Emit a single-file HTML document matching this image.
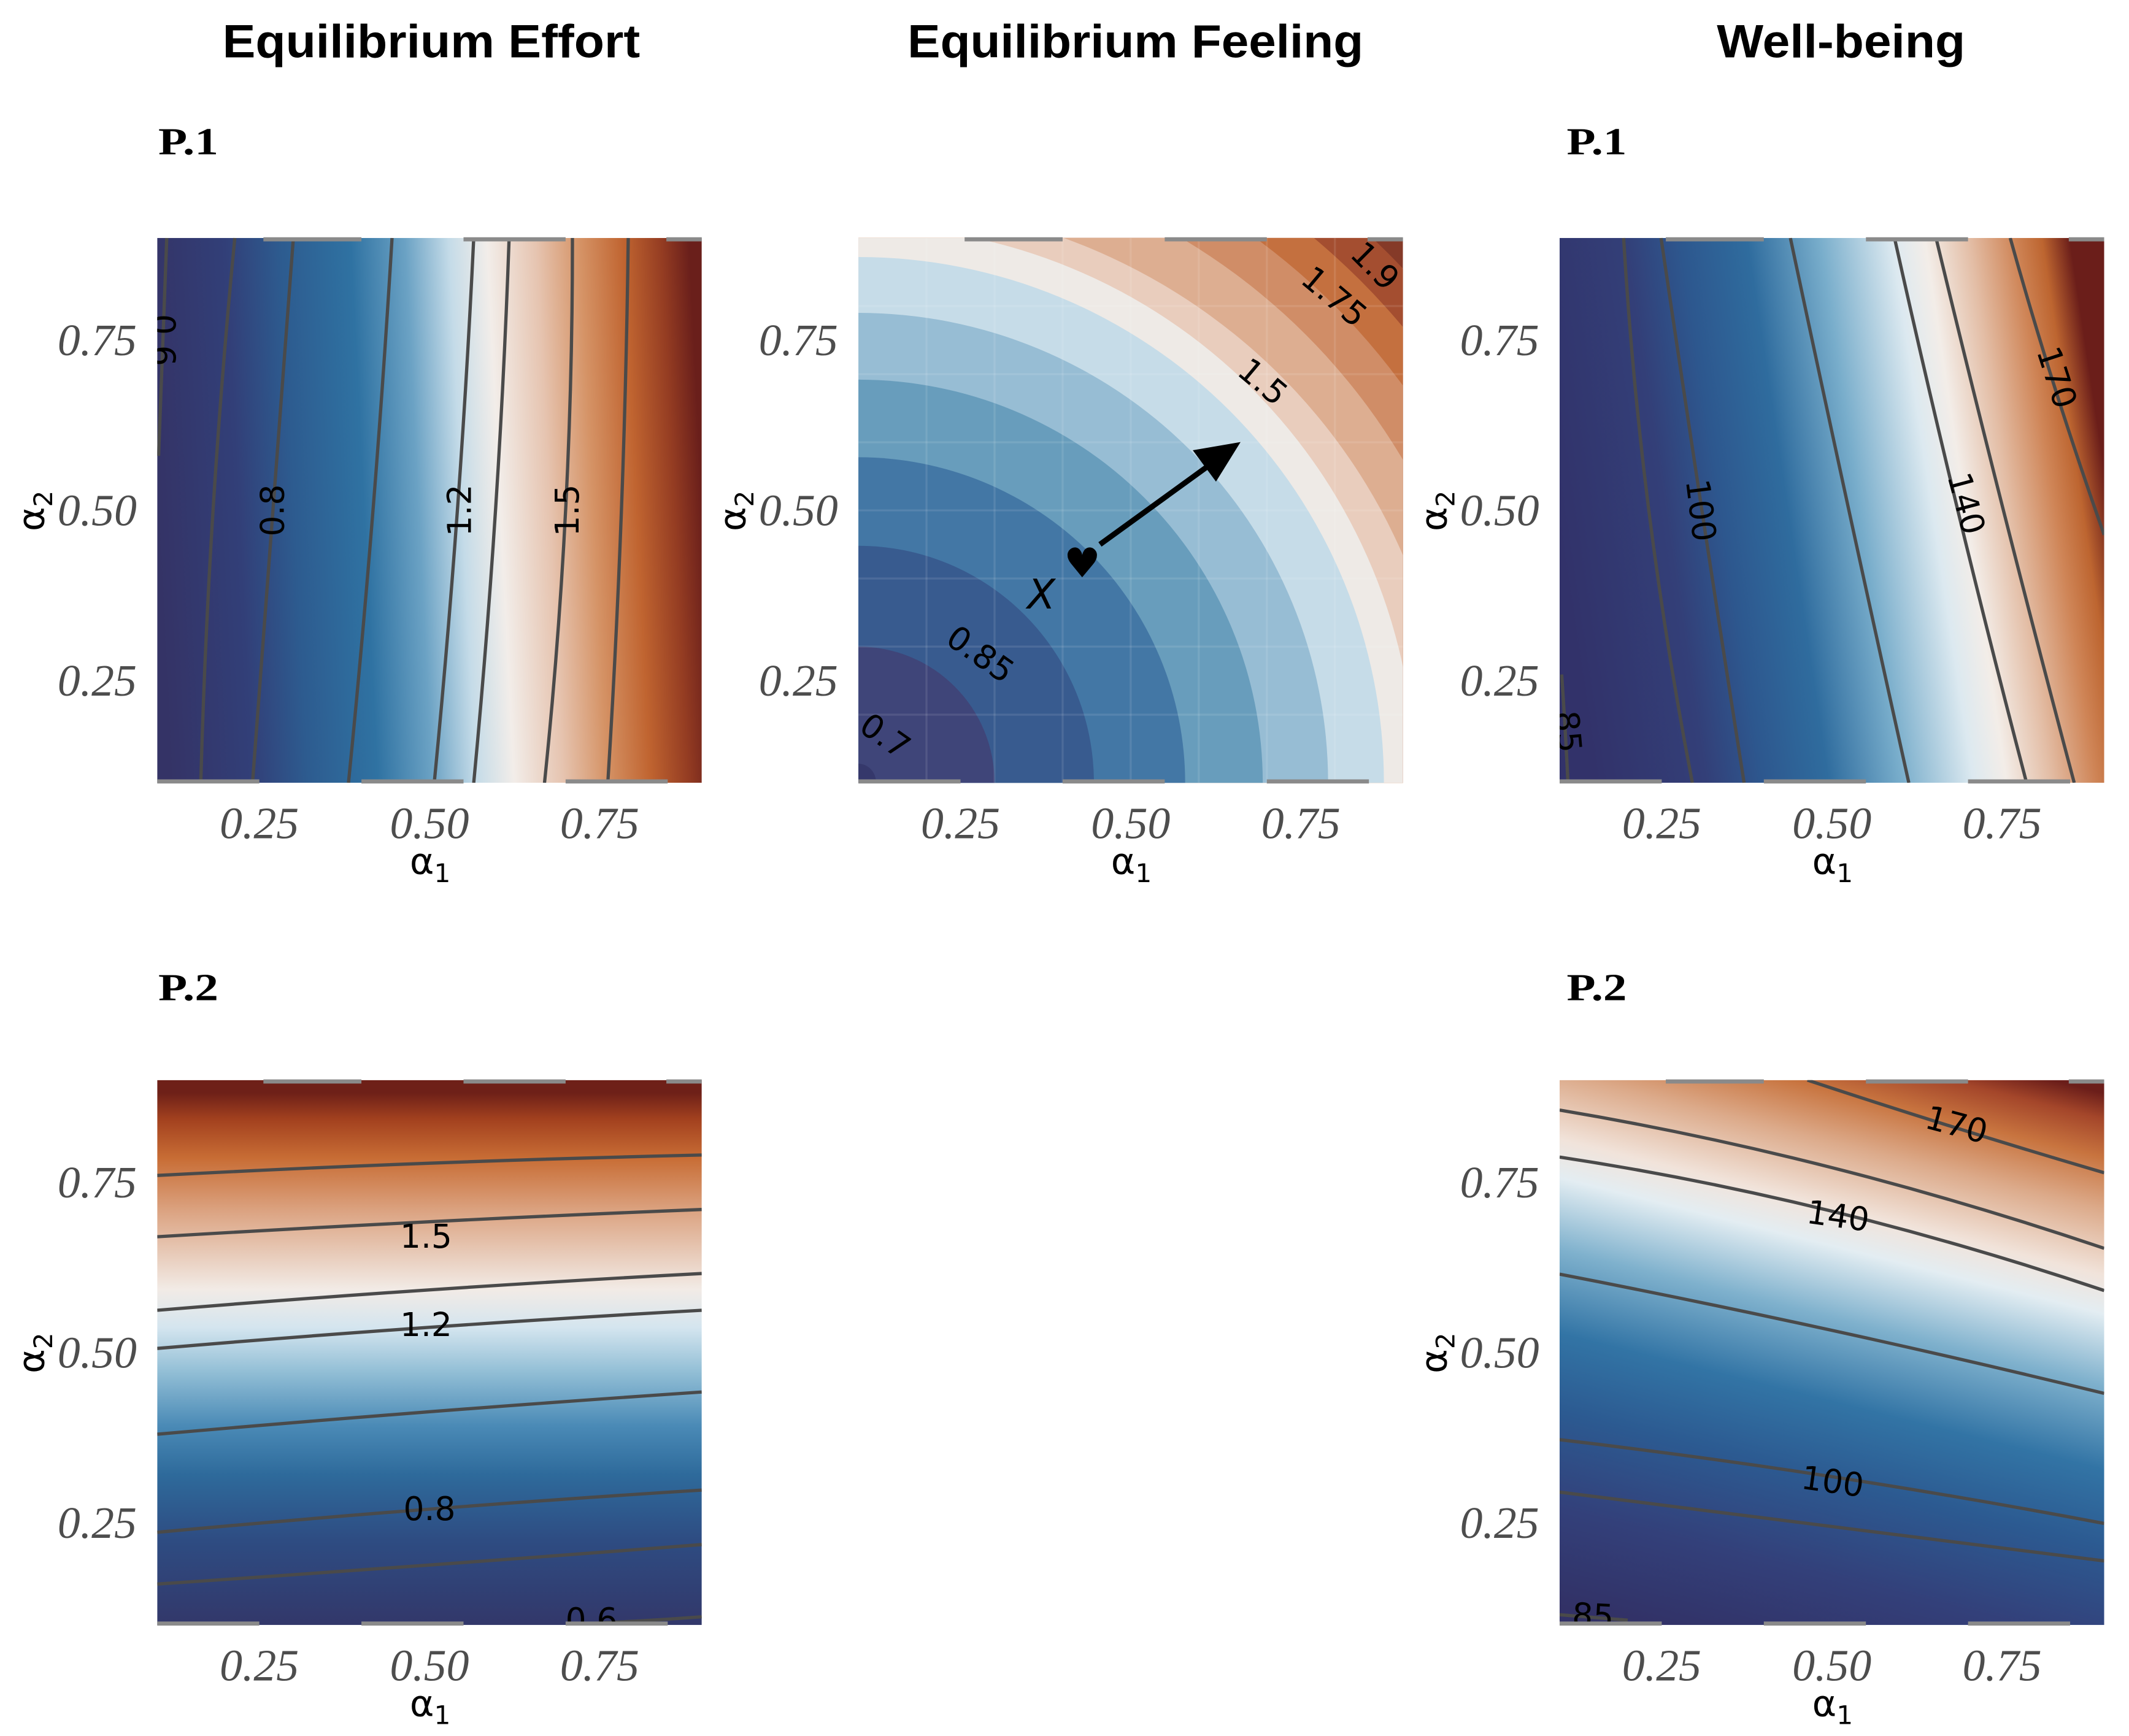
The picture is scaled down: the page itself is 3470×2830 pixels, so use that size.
<!DOCTYPE html>
<html><head><meta charset="utf-8"><style>
html,body{margin:0;padding:0;background:#fff;}
svg{display:block;}
.tt{font-family:"Liberation Sans",sans-serif;font-weight:bold;font-size:34px;fill:#000;}
.pl{font-family:"Liberation Serif",serif;font-weight:bold;font-size:28px;fill:#000;}
.tick{font-family:"Liberation Serif",serif;font-style:italic;font-size:33px;fill:#4d4d4d;}
.ax{font-family:"DejaVu Sans","Liberation Sans",sans-serif;font-size:27px;fill:#000;}
.cl{font-family:"DejaVu Sans","Liberation Sans",sans-serif;font-size:24px;fill:#000;}
</style></head><body>
<svg id="fig" width="3470" height="2830" viewBox="0 0 1560 1272.3" preserveAspectRatio="none" xmlns="http://www.w3.org/2000/svg">
<defs>
<linearGradient id="gEff1" gradientUnits="userSpaceOnUse" x1="115" y1="380" x2="514" y2="360">
<stop offset="0" stop-color="#343366"/><stop offset="0.15" stop-color="#323f78"/><stop offset="0.25" stop-color="#2d5b8f"/><stop offset="0.38" stop-color="#2f72a2"/><stop offset="0.48" stop-color="#6ba2c4"/><stop offset="0.56" stop-color="#c4dbe8"/><stop offset="0.63" stop-color="#f2ede9"/><stop offset="0.72" stop-color="#e6c4b0"/><stop offset="0.8" stop-color="#d59366"/><stop offset="0.88" stop-color="#c06430"/><stop offset="0.95" stop-color="#943c22"/><stop offset="1" stop-color="#6a1f1b"/>
</linearGradient>
<linearGradient id="gEff2" gradientUnits="userSpaceOnUse" x1="315" y1="801" x2="315" y2="1201">
<stop offset="0" stop-color="#6e2018"/><stop offset="0.05" stop-color="#a4421f"/><stop offset="0.12" stop-color="#c86d35"/><stop offset="0.22" stop-color="#dca584"/><stop offset="0.36" stop-color="#f2ebe6"/><stop offset="0.43" stop-color="#d4e5ef"/><stop offset="0.51" stop-color="#93bfd6"/><stop offset="0.61" stop-color="#4a8ab6"/><stop offset="0.7" stop-color="#2e6a9b"/><stop offset="0.82" stop-color="#2e4c82"/><stop offset="1" stop-color="#333466"/>
</linearGradient>
<linearGradient id="gWb1" gradientUnits="userSpaceOnUse" x1="1143" y1="404" x2="1542" y2="344">
<stop offset="0" stop-color="#32326a"/><stop offset="0.2" stop-color="#333f78"/><stop offset="0.3" stop-color="#2d578e"/><stop offset="0.42" stop-color="#2f6c9e"/><stop offset="0.55" stop-color="#78adcb"/><stop offset="0.68" stop-color="#dce9f0"/><stop offset="0.74" stop-color="#f3ede8"/><stop offset="0.82" stop-color="#e3bda5"/><stop offset="0.9" stop-color="#cf8557"/><stop offset="0.95" stop-color="#bd6530"/><stop offset="1" stop-color="#6b1e1a"/>
</linearGradient>
<linearGradient id="gWb2" gradientUnits="userSpaceOnUse" x1="1293" y1="1215" x2="1405" y2="767">
<stop offset="0" stop-color="#323166"/><stop offset="0.15" stop-color="#33407a"/><stop offset="0.3" stop-color="#2c5a91"/><stop offset="0.42" stop-color="#3274a5"/><stop offset="0.55" stop-color="#7fb1cd"/><stop offset="0.66" stop-color="#e3edf2"/><stop offset="0.72" stop-color="#f1e3da"/><stop offset="0.82" stop-color="#dcaa8a"/><stop offset="0.9" stop-color="#c8743f"/><stop offset="0.96" stop-color="#a4462a"/><stop offset="1" stop-color="#6b1e1a"/>
</linearGradient>
<clipPath id="cpA"><rect x="115.2" y="174.4" width="399" height="399.3"/></clipPath>
<clipPath id="cpB"><rect x="629" y="174.4" width="399" height="399.3"/></clipPath>
<clipPath id="cpC"><rect x="1142.8" y="174.4" width="399" height="399.3"/></clipPath>
<clipPath id="cpD"><rect x="115.2" y="791.6" width="399" height="399.3"/></clipPath>
<clipPath id="cpE"><rect x="1142.8" y="791.6" width="399" height="399.3"/></clipPath>
</defs>

<text class="tt" x="316" y="42" text-anchor="middle" textLength="306" lengthAdjust="spacingAndGlyphs">Equilibrium Effort</text>
<text class="tt" x="832" y="42" text-anchor="middle" textLength="334" lengthAdjust="spacingAndGlyphs">Equilibrium Feeling</text>
<text class="tt" x="1349" y="42" text-anchor="middle" textLength="182" lengthAdjust="spacingAndGlyphs">Well-being</text>
<text class="pl" x="116" y="113" textLength="44" lengthAdjust="spacingAndGlyphs">P.1</text>
<text class="pl" x="1148" y="113" textLength="44" lengthAdjust="spacingAndGlyphs">P.1</text>
<text class="pl" x="116" y="733" textLength="44" lengthAdjust="spacingAndGlyphs">P.2</text>
<text class="pl" x="1148" y="733" textLength="44" lengthAdjust="spacingAndGlyphs">P.2</text>
<g id="root"></g>
</svg>
<script>
// axis ticks
const tickValues = [0.25, 0.5, 0.75];
const tickLabels = ["0.25", "0.50", "0.75"];
// Effort P1 contour lines ([alpha1, alpha2] points)
const effP1Lines = [
 [[0.114,0.9],[0.108,0.74],[0.102,0.58]],
 [[0.214,0.9],[0.182,0.5],[0.164,0.1]],
 [[0.300,0.9],[0.270,0.5],[0.240,0.1]],
 [[0.445,0.9],[0.417,0.5],[0.381,0.1]],
 [[0.565,0.9],[0.541,0.5],[0.507,0.1]],
 [[0.617,0.9],[0.597,0.5],[0.565,0.1]],
 [[0.710,0.9],[0.700,0.5],[0.669,0.1]],
 [[0.792,0.9],[0.782,0.5],[0.762,0.1]]
];
const effP1Labels = ["0.6","0.8","1.2","1.5"];
const effP1LabelPos = [[0.108,0.75],[0.27,0.5],[0.545,0.5],[0.703,0.5]];
// Effort P2
const effP2Lines = [
 [[0.726,0.102],[0.81,0.106],[0.9,0.112]],
 [[0.1,0.16],[0.5,0.188],[0.9,0.218]],
 [[0.1,0.236],[0.5,0.27],[0.9,0.298]],
 [[0.1,0.38],[0.5,0.413],[0.9,0.442]],
 [[0.1,0.506],[0.5,0.537],[0.9,0.562]],
 [[0.1,0.562],[0.5,0.592],[0.9,0.616]],
 [[0.1,0.67],[0.5,0.692],[0.9,0.71]],
 [[0.1,0.76],[0.5,0.778],[0.9,0.79]]
];
const effP2Labels = ["1.5","1.2","0.8","0.6"];
const effP2LabelPos = [[0.495,0.67],[0.495,0.54],[0.5,0.27],[0.738,0.107]];
// Feeling: filled contour bands as ellipse radii (alpha units from corner 0.1,0.1)
const feelRx = [1.10,1.043,0.99,0.93,0.8695,0.818,0.772,0.69,0.594,0.48,0.346,0.20,0.026];
const feelRy = [1.10,1.043,0.99,0.93,0.853,0.818,0.772,0.69,0.592,0.478,0.348,0.20,0.028];
const feelColors = ["#a44e30","#c4703f","#d08d67","#ddae91","#e9cdbd","#eeeae6","#c6dce8","#97bdd4","#689dbc","#4377a5","#385b8f","#3f4579","#35386b"];
const feelOuter = "#853a28";
const feelLabels = ["0.7","0.85","1.5","1.75","1.9"];
const feelLabelPos = [[0.14,0.17],[0.28,0.29],[0.695,0.69],[0.80,0.815],[0.86,0.86]];
const feelLabelRot = [35,35,40,40,45];
// Well-being P1
const wbP1Lines = [
 [[0.103,0.259],[0.108,0.18],[0.112,0.104]],
 [[0.194,0.9],[0.231,0.5],[0.295,0.1]],
 [[0.249,0.9],[0.309,0.5],[0.371,0.1]],
 [[0.439,0.9],[0.525,0.5],[0.613,0.1]],
 [[0.592,0.9],[0.685,0.5],[0.786,0.1]],
 [[0.653,0.9],[0.752,0.5],[0.856,0.1]],
 [[0.762,0.9],[0.826,0.685],[0.9,0.464]]
];
const wbP1Labels = ["100","140","170","85"];
const wbP1LabelPos = [[0.307,0.5],[0.697,0.51],[0.83,0.695],[0.112,0.175]];
const wbP1LabelRot = [83,75,72,85];
// Well-being P2
const wbP2Lines = [
 [[0.464,0.9],[0.685,0.829],[0.9,0.764]],
 [[0.1,0.856],[0.498,0.772],[0.9,0.653]],
 [[0.1,0.787],[0.498,0.708],[0.9,0.591]],
 [[0.1,0.615],[0.498,0.533],[0.9,0.440]],
 [[0.1,0.372],[0.498,0.318],[0.9,0.249]],
 [[0.1,0.295],[0.498,0.245],[0.9,0.194]],
 [[0.1,0.115],[0.15,0.111],[0.2,0.107]]
];
const wbP2Labels = ["170","140","100","85"];
const wbP2LabelPos = [[0.683,0.834],[0.509,0.70],[0.501,0.31],[0.149,0.113]];
const wbP2LabelRot = [15,8,8,3];

const NS = "http://www.w3.org/2000/svg";
const root = document.getElementById('root');
const PW=399, PH=399.3;
function mk(tag, attrs, parent){const e=document.createElementNS(NS,tag);for(const k in attrs)e.setAttribute(k,attrs[k]);(parent||root).appendChild(e);return e;}
function sx(p,v){return p.x0+(v-0.1)/0.8*PW;}
function sy(p,v){return p.y0+PH-(v-0.1)/0.8*PH;}
function curve(p,pts){
 const a=[sx(p,pts[0][0]),sy(p,pts[0][1])],b=[sx(p,pts[1][0]),sy(p,pts[1][1])],c=[sx(p,pts[2][0]),sy(p,pts[2][1])];
 const cx=2*b[0]-(a[0]+c[0])/2, cy=2*b[1]-(a[1]+c[1])/2;
 return `M${a[0]},${a[1]} Q${cx},${cy} ${c[0]},${c[1]}`;
}
function axes(p, name){
 const g=mk('g',{});
 
 
 const topSeg=[[0.256,0.4],[0.55,0.7],[0.848,0.9]], botSeg=[[0.1,0.25],[0.4,0.55],[0.7,0.85]];
 topSeg.forEach(s=>{mk('line',{x1:sx(p,s[0]),x2:sx(p,s[1]),y1:p.y0+1,y2:p.y0+1,stroke:'#8a8a8a','stroke-width':3},g);});
 botSeg.forEach(s=>{mk('line',{x1:sx(p,s[0]),x2:sx(p,s[1]),y1:p.y0+PH-1,y2:p.y0+PH-1,stroke:'#8a8a8a','stroke-width':3},g);});
 tickValues.forEach((v,i)=>{
  const t=mk('text',{class:'tick',x:sx(p,v),y:p.y0+440,'text-anchor':'middle',textLength:58,lengthAdjust:'spacingAndGlyphs'},g);
  
  
  t.textContent=tickLabels[i];
  const u=mk('text',{class:'tick',x:p.x0-15,y:sy(p,v)+11,'text-anchor':'end',textLength:58,lengthAdjust:'spacingAndGlyphs'},g);
  
  
  u.textContent=tickLabels[i];
 });
 const xl=mk('text',{class:'ax',x:p.x0+200,y:p.y0+466,'text-anchor':'middle'},g);
 
 
 xl.innerHTML='α<tspan font-size="19" dy="6">1</tspan>';
 const yl=mk('text',{class:'ax',x:0,y:0,'text-anchor':'middle',transform:`translate(${p.x0-83},${p.y0+200}) rotate(-90)`},g);
 
 
 yl.innerHTML='α<tspan font-size="19" dy="6">2</tspan>';
}
function linesPanel(p,name,fill,clip,lines,labels,pos,rots){
 const g=mk('g',{'clip-path':`url(#${clip})`});
 
 
 mk('rect',{x:p.x0,y:p.y0,width:PW,height:PH,fill:fill},g);
 lines.forEach(l=>{
  const e=mk('path',{d:curve(p,l),fill:'none',stroke:'#4a4a4a','stroke-width':2.4},g);
  
  
 });
 labels.forEach((s,i)=>{
  const x=sx(p,pos[i][0]),y=sy(p,pos[i][1]);
  const t=mk('text',{class:'cl',x:x,y:y+8,'text-anchor':'middle',transform:`rotate(${rots[i]},${x},${y})`},g);
  
  
  t.textContent=s;
 });
 axes(p,name);
}
const PA={x0:115.2,y0:174.4},PB={x0:629,y0:174.4},PC={x0:1142.8,y0:174.4},PD={x0:115.2,y0:791.6},PE={x0:1142.8,y0:791.6};
linesPanel(PA,'effort-p1','url(#gEff1)','cpA',effP1Lines,effP1Labels,effP1LabelPos,[90,-90,-90,-90]);
linesPanel(PD,'effort-p2','url(#gEff2)','cpD',effP2Lines,effP2Labels,effP2LabelPos,[0,0,0,0]);
linesPanel(PC,'wellbeing-p1','url(#gWb1)','cpC',wbP1Lines,wbP1Labels,wbP1LabelPos,wbP1LabelRot);
linesPanel(PE,'wellbeing-p2','url(#gWb2)','cpE',wbP2Lines,wbP2Labels,wbP2LabelPos,wbP2LabelRot);

// Feeling panel
(function(){
 const p=PB;
 const g=mk('g',{'clip-path':'url(#cpB)'});
 
 
 mk('rect',{x:p.x0,y:p.y0,width:PW,height:PH,fill:feelOuter},g);
 const cx=sx(p,0.1), cy=sy(p,0.1);
 feelRx.forEach((r,i)=>{
  const rx=r/0.8*PW, ry=feelRy[i]/0.8*PH;
  const e=mk('ellipse',{cx:cx,cy:cy,rx:rx,ry:ry,fill:feelColors[i]},g);
  
  
 });
 for(let k=1;k<8;k++){
  mk('line',{x1:p.x0+k*PW/8,x2:p.x0+k*PW/8,y1:p.y0,y2:p.y0+PH,stroke:'#ffffff','stroke-opacity':0.1,'stroke-width':1.5},g);
  mk('line',{y1:p.y0+k*PH/8,y2:p.y0+k*PH/8,x1:p.x0,x2:p.x0+PW,stroke:'#ffffff','stroke-opacity':0.1,'stroke-width':1.5},g);
 }
 feelLabels.forEach((s,i)=>{
  const x=sx(p,feelLabelPos[i][0]),y=sy(p,feelLabelPos[i][1]);
  const t=mk('text',{class:'cl',x:x,y:y+9,'text-anchor':'middle','font-size':27,transform:`rotate(${feelLabelRot[i]},${x},${y})`},g);
  
  
  t.textContent=s;
 });
 const xm=mk('text',{x:763,y:446,'text-anchor':'middle','font-family':'DejaVu Sans, sans-serif','font-style':'italic','font-size':30,fill:'#000'},g);
 
 
 xm.textContent='X';
 const hm=mk('text',{x:793,y:423,'text-anchor':'middle','font-family':'DejaVu Sans, sans-serif','font-size':30,fill:'#000'},g);
 
 
 hm.textContent='♥';
 const ar=mk('line',{x1:806,y1:399,x2:886,y2:341,stroke:'#000','stroke-width':4},g);
 
 
 const ah=mk('polygon',{points:'909,324 874,330 891,353',fill:'#000'},g);
 
 
 axes(p,'feeling');
})();
</script>
</body></html>
